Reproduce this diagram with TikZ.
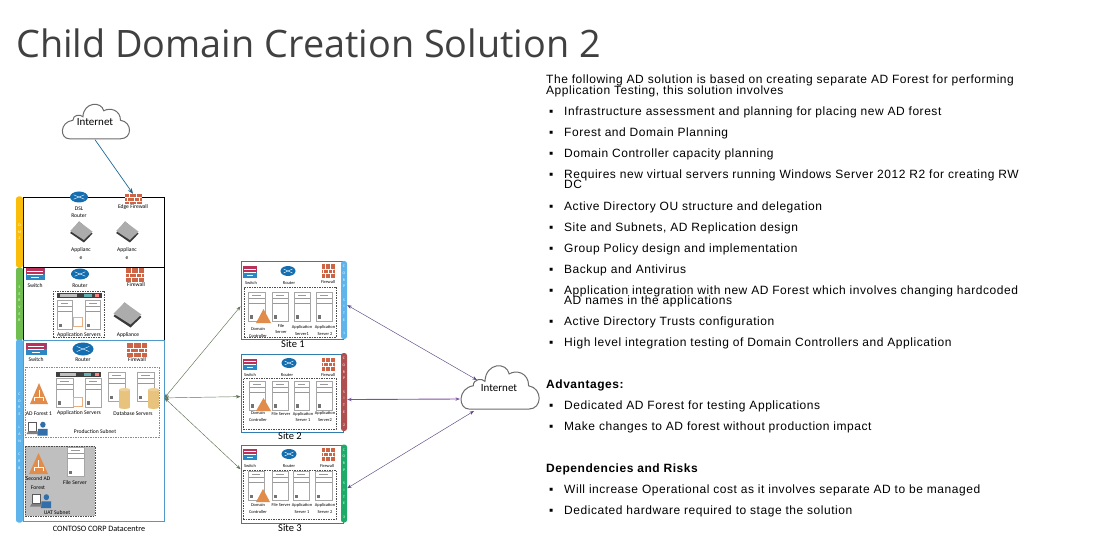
\documentclass[tikz,border=0pt]{standalone}
\usepackage{fontspec}
\setmainfont[LetterSpace=4.5]{Liberation Sans}
\newfontfamily\titlefont{Open Sans}
\newfontfamily\labfont{Carlito}
\usepackage{xcolor}
\usetikzlibrary{arrows.meta,calc,shapes.geometric}
\definecolor{dmzcol}{RGB}{250,190,10}
\definecolor{srvcol}{RGB}{112,190,80}
\definecolor{corpcol}{RGB}{95,180,235}
\definecolor{framecol}{RGB}{50,125,175}
\definecolor{redbar}{RGB}{175,80,80}
\definecolor{greenbar}{RGB}{30,170,105}
\definecolor{brickcol}{RGB}{205,100,70}
\definecolor{routercol}{RGB}{20,110,175}
\definecolor{swred}{RGB}{185,50,90}
\definecolor{swblue}{RGB}{45,135,195}
\definecolor{adcol}{RGB}{225,140,75}
\definecolor{dbcol}{RGB}{232,195,125}
\definecolor{usercol}{RGB}{50,110,170}
\definecolor{olivelink}{RGB}{95,115,85}
\definecolor{purplelink}{RGB}{90,70,130}
\definecolor{violetlink}{RGB}{125,80,165}
\definecolor{uplink}{RGB}{30,105,150}
\tikzset{
  unit/.style ={y={($(path picture bounding box.north west)-(path picture bounding box.south west)$)},
                x={($(path picture bounding box.south east)-(path picture bounding box.south west)$)}},
  firewall/.style ={inner sep=0pt, minimum width=13pt, minimum height=12pt, fill=brickcol,
                path picture={\draw[unit, white, line width=0.35pt] (-.5,-.17) -- (.5,-.17) (-.5,.16) -- (.5,.16)
                  (-.2,.5) -- (-.2,.16) (.2,.5) -- (.2,.16) (-.35,.16) -- (-.35,-.17) (.05,.16) -- (.05,-.17) (.35,.16) -- (.35,-.17) (-.2,-.17) -- (-.2,-.5) (.2,-.17) -- (.2,-.5);}},
  router/.style ={ellipse, inner sep=0pt, minimum width=15pt, minimum height=10pt, fill=routercol,
                path picture={\draw[unit, white, line width=0.4pt] (-.3,-.2) -- (.3,.2) (-.3,.2) -- (.3,-.2);}},
  switchbox/.style ={inner sep=0pt, minimum width=14pt, minimum height=11pt, fill=swblue,
                path picture={\fill[unit, swred] (-.5,0) rectangle (.5,.5); \draw[unit, white, line width=0.3pt] (-.4,.25) -- (.4,.25) (-.4,0) -- (.4,0) (-.2,-.25) -- (.2,-.25);}},
  serverbox/.style ={draw=gray!70, fill=white, inner sep=0pt, line width=0.4pt, minimum width=17pt, minimum height=29pt,
                path picture={\draw[unit, gray!80, line width=0.4pt] (-.5,.3) -- (.5,.3) (-.5,.12) -- (.5,.12) (-.25,.4) -- (.25,.4);
                  \fill[unit, gray!90!black] (-.38,-.43) rectangle (-.2,-.3);}},
  appliance/.style ={inner sep=0pt, minimum width=24pt, minimum height=21pt,
                path picture={\fill[unit, gray!45!black] (-.45,-.05) -- (-.08,.5) -- (.48,-.08) -- (.12,-.5) -- cycle;
                  \fill[unit, gray!65] (-.45,.05) -- (-.08,.5) -- (.48,.02) -- (.12,-.38) -- cycle;}},
  adtree/.style ={inner sep=0pt, minimum width=18pt, minimum height=21pt,
                path picture={\fill[unit, adcol] (0,.5) -- (.5,-.5) -- (-.5,-.5) -- cycle;
                  \draw[unit, white, line width=0.5pt] (0,.15) -- (0,-.2) (-.25,-.38) -- (-.25,-.2) -- (.25,-.2) -- (.25,-.38);}},
  adplain/.style ={inner sep=0pt, minimum width=15pt, minimum height=14pt,
                path picture={\fill[unit, adcol] (0,.5) -- (.5,-.5) -- (-.5,-.5) -- cycle;}},
  dbcyl/.style ={inner sep=0pt, minimum width=11pt, minimum height=21pt,
                path picture={\fill[unit, dbcol] (-.5,-.42) rectangle (.5,.42); \fill[unit, dbcol] (0,-.42) ellipse (.5 and .08);
                  \fill[unit, dbcol!80!white] (0,.42) ellipse (.5 and .08);}},
  userpc/.style ={inner sep=0pt, minimum width=21pt, minimum height=15pt,
                path picture={\fill[unit, usercol] (.28,.22) ellipse (.13 and .2); \fill[unit, usercol] (.02,-.5) -- (.05,-.05) -- (.5,-.05) -- (.5,-.5) -- cycle;
                  \draw[unit, gray!70!black, fill=white, line width=0.4pt] (-.4,-.2) rectangle (-.02,.4); \fill[unit, gray] (-.5,-.4) -- (-.42,-.22) -- (.05,-.22) -- (.05,-.4) -- cycle;}},
  certbox/.style ={draw=adcol!70, fill=white, inner sep=0pt, line width=0.3pt, minimum width=9pt, minimum height=9pt},
  rackbar/.style ={fill=black!75, inner sep=0pt, minimum width=45pt, minimum height=5pt,
                path picture={\fill[unit, gray!50] (-.42,-.25) rectangle (-.05,.25); \fill[unit, teal!60] (.12,-.25) rectangle (.28,.25); \fill[unit, red!50] (.36,-.25) rectangle (.45,.25);}},
  cloudpic/.pic={\draw[gray!85!black, line width=1pt, fill=white] (-.38,-.48) .. controls (-.53,-.48) and (-.53,0) .. (-.33,.05)
                  .. controls (-.33,.22) and (-.21,.22) .. (-.18,.15) .. controls (-.17,.58) and (.1,.6) .. (.13,.32)
                  .. controls (.22,.42) and (.38,.35) .. (.38,.05) .. controls (.56,0) and (.56,-.48) .. (.38,-.48) -- cycle;},
  cloudbox/.style ={inner sep=0pt, font=\labfont\fontsize{11}{12}\selectfont},
  lab/.style ={inner sep=0pt, font=\labfont\fontsize{5.6}{6.6}\selectfont, align=center},
  slab/.style ={inner sep=0pt, font=\labfont\fontsize{4.4}{6.2}\selectfont, align=center},
  sitelab/.style ={inner sep=0pt, font=\labfont\fontsize{10.5}{12}\selectfont},
  sidebar/.style ={rounded corners=2.5pt, inner sep=0pt, minimum width=7pt, text=white, align=center, font=\labfont\fontsize{3.8}{6.7}\selectfont},
  frame/.style ={draw=framecol, line width=0.9pt, inner sep=0pt, fill=white},
  subnet/.style ={draw=black!70, dashed, dash pattern=on 1.5pt off 1pt, line width=0.4pt, inner sep=0pt},
  link/.style ={{Stealth[length=1.6mm,width=1.2mm]}-{Stealth[length=1.6mm,width=1.2mm]}, line width=0.45pt},
  body/.style ={anchor=base west, inner sep=0pt, font=\fontsize{12}{13}\selectfont}
}
\newcommand{\bitem}{\makebox[15pt][l]{▪}}
\begin{document}
\begin{tikzpicture}[x=1pt,y=-1pt]
  \useasboundingbox (0,0) rectangle (1114,540);
  \node[inner sep=0pt, anchor=base west, font=\titlefont\fontsize{37.8}{40}\selectfont, text=black!75] (title) at (16,58) {Child Domain Creation Solution 2};
  % datacentre
  \pic[xscale=67, yscale=-35] at (95,122) {cloudpic};
  \node[cloudbox, minimum width=67pt, minimum height=35pt] (inet1) at (95,122) {Internet};
  \node[frame, draw=black, minimum width=141pt, minimum height=70pt] (dmzbox) at (93.5,232) {};
  \node[frame, draw=black, minimum width=141pt, minimum height=73pt] (srvbox) at (93.5,304) {};
  \node[frame, draw=corpcol!85!black, minimum width=141pt, minimum height=181pt] (corpbox) at (93.5,431) {};
  \node[sidebar, fill=dmzcol, minimum height=71pt] (dmzbar) at (19.5,232) {D\\M\\Z};
  \node[sidebar, fill=srvcol, minimum height=73pt] (srvbar) at (19.5,304) {S\\E\\R\\V\\E\\R};
  \node[sidebar, fill=corpcol, minimum height=183pt] (corpbar) at (19.5,431) {C\\O\\R\\E\\[6.7pt]L\\A\\N\\[6.7pt]C\\R\\B};
  \node[router, minimum width=18pt, minimum height=11pt] (dmzrt) at (79,197) {};
  \node[firewall, minimum width=17pt, minimum height=10pt] (dmzfw) at (133,199) {};
  \node[lab] (dmzrtl) at (79,212.5) {DSL\\Router};
  \node[lab] (dmzfwl) at (133,207.5) {Edge Firewall};
  \node[appliance] (dmzap1) at (81,232) {};
  \node[appliance] (dmzap2) at (127,232) {};
  \node[lab] (dmzap1l) at (81,254) {Applianc\\[1.5pt]e};
  \node[lab] (dmzap2l) at (127,254) {Applianc\\[1.5pt]e};
  \node[switchbox, minimum width=19pt, minimum height=11pt] (srvsw) at (35,274) {};
  \node[router, minimum width=18pt, minimum height=11pt] (srvrt) at (80,274) {};
  \node[firewall, minimum width=18pt, minimum height=13pt] (srvfw) at (135,275) {};
  \node[lab] (srvswl) at (35,286) {Switch};
  \node[lab] (srvrtl) at (80,286) {Router};
  \node[lab] (srvfwl) at (136,285) {Firewall};
  \node[subnet, minimum width=51pt, minimum height=46pt] (srvsub) at (78.5,314) {};
  \node[rackbar] (srvrack) at (79,295.5) {};
  \node[serverbox, minimum width=15pt] (srvs1) at (64.5,315) {};
  \node[serverbox, minimum width=15pt] (srvs2) at (93,315) {};
  \node[certbox] (srvcert) at (78,322) {};
  \node[lab] (srvsubl) at (79,335) {Application Servers};
  \node[appliance, minimum width=30pt, minimum height=25pt] (srvap) at (127,315) {};
  \node[lab] (srvapl) at (128,335) {Appliance};
  \node[switchbox, minimum width=21pt, minimum height=12pt] (corpsw) at (36,349) {};
  \node[router, minimum width=21pt, minimum height=13pt] (corprt) at (83,349) {};
  \node[firewall, minimum width=20pt, minimum height=14pt] (corpfw) at (137,350) {};
  \node[lab] (corpswl) at (36,360) {Switch};
  \node[lab] (corprtl) at (83,360) {Router};
  \node[lab] (corpfwl) at (137,360) {Firewall};
  \node[subnet, draw=black!45, minimum width=134pt, minimum height=70pt] (prodsub) at (92,402) {};
  \node[adtree] (prodad) at (39,393.5) {};
  \node[lab] (prodadl) at (39,413.5) {AD Forest 1};
  \node[rackbar] (prodrack) at (78.5,374.5) {};
  \node[serverbox] (prods1) at (64.5,392.5) {};
  \node[serverbox, minimum width=16pt] (prods2) at (93,392.5) {};
  \node[certbox] (prodcert) at (78,402) {};
  \node[lab] (prodsl) at (79,413.5) {Application Servers};
  \node[serverbox] (dbs1) at (116.5,387) {};
  \node[dbcyl] (db1) at (124.5,398.5) {};
  \node[serverbox] (dbs2) at (145.5,387) {};
  \node[dbcyl] (db2) at (153.5,398.5) {};
  \node[lab] (dbl) at (133,414) {Database Servers};
  \node[userpc] (produser) at (37,428) {};
  \node[lab] (prodl) at (95,432) {Production Subnet};
  \node[subnet, fill=gray!50, minimum width=70pt, minimum height=70pt] (uatsub) at (60,481) {};
  \node[adtree, minimum width=19pt] (uatad) at (38.5,463.5) {};
  \node[lab] (uatadl) at (38,483) {Second AD\\[2pt]Forest};
  \node[serverbox] (uats) at (75.5,462) {};
  \node[lab] (uatsl) at (75,483) {File Server};
  \node[userpc] (uatuser) at (40.5,500.5) {};
  \node[lab] (uatl) at (57,513) {UAT Subnet};
  \node[sitelab, font=\labfont\fontsize{8.2}{10}\selectfont] (dcl) at (99,529) {CONTOSO CORP Datacentre};
  % site 1
  \node[frame, minimum width=102pt, minimum height=78pt] (site1) at (292,300) {};
  \node[sidebar, fill=corpcol, minimum width=6pt, minimum height=78pt] (site1bar) at (344,300) {C\\O\\R\\P\\[6.7pt]S\\I\\T\\E\\[6.7pt]1};
  \node[switchbox] (s1sw) at (250,272) {};
  \node[router] (s1rt) at (288,271) {};
  \node[firewall, minimum height=13pt] (s1fw) at (328,271) {};
  \node[slab] (s1swl) at (251,283) {Switch};
  \node[slab] (s1rtl) at (289,283) {Router};
  \node[slab] (s1fwl) at (328,282) {Firewall};
  \node[subnet, minimum width=92pt, minimum height=50pt] (s1sub) at (290,312) {};
  \node[serverbox] (s1a) at (256.5,306.5) {};
  \node[serverbox, minimum width=16pt] (s1b) at (280,306.5) {};
  \node[serverbox, minimum width=16pt] (s1c) at (302,306.5) {};
  \node[serverbox, minimum width=16pt] (s1d) at (324,306.5) {};
  \node[adplain] (s1ad) at (263.5,316) {};
  \node[slab] (s1al) at (258,332.5) {Domain\\Controller};
  \node[slab] (s1bl) at (281,329) {File\\Server};
  \node[slab] (s1cl) at (302,330.5) {Application\\Server1};
  \node[slab] (s1dl) at (325,330.5) {Application\\Server 2};
  \node[sitelab] (s1l) at (293,344) {Site 1};
  % site 2
  \node[frame, minimum width=102pt, minimum height=78pt] (site2) at (292,393) {};
  \node[sidebar, fill=redbar, minimum width=6pt, minimum height=78pt] (site2bar) at (344,392) {C\\O\\R\\P\\[6.7pt]S\\I\\T\\E\\[6.7pt]2};
  \node[switchbox] (s2sw) at (250,364) {};
  \node[router] (s2rt) at (289,363) {};
  \node[firewall, minimum height=13pt] (s2fw) at (328,364) {};
  \node[slab] (s2swl) at (250,375) {Switch};
  \node[slab] (s2rtl) at (287,375) {Router};
  \node[slab] (s2fwl) at (328,375) {Firewall};
  \node[subnet, minimum width=93pt, minimum height=51pt] (s2sub) at (289.5,403.5) {};
  \node[serverbox, minimum width=16pt] (s2a) at (257,395.5) {};
  \node[serverbox, minimum width=16pt] (s2b) at (280,395.5) {};
  \node[serverbox, minimum width=15pt] (s2c) at (301.5,395.5) {};
  \node[serverbox, minimum width=16pt] (s2d) at (324,395.5) {};
  \node[adplain, minimum height=13pt] (s2ad) at (263.5,404.5) {};
  \node[slab] (s2al) at (258,416.5) {Domain\\Controller};
  \node[slab] (s2bl) at (281,413.5) {File Server};
  \node[slab] (s2cl) at (303,417) {Application\\Server 1};
  \node[slab] (s2dl) at (325,416.5) {Application\\Server2};
  \node[sitelab] (s2l) at (290,436) {Site 2};
  % site 3
  \node[frame, minimum width=102pt, minimum height=78pt] (site3) at (292,484) {};
  \node[sidebar, fill=greenbar, minimum width=6pt, minimum height=78pt] (site3bar) at (344,483.5) {C\\O\\R\\P\\[6.7pt]S\\I\\T\\E\\[6.7pt]3};
  \node[switchbox] (s3sw) at (250,454) {};
  \node[router] (s3rt) at (289,454) {};
  \node[firewall, minimum height=13pt] (s3fw) at (328,454) {};
  \node[slab] (s3swl) at (250,466) {Switch};
  \node[slab] (s3rtl) at (289,466) {Router};
  \node[slab] (s3fwl) at (327,466) {Firewall};
  \node[subnet, minimum width=93pt, minimum height=49pt] (s3sub) at (289.5,494.5) {};
  \node[serverbox, minimum width=16pt] (s3a) at (256,486) {};
  \node[serverbox, minimum width=16pt] (s3b) at (280,486) {};
  \node[serverbox, minimum width=16pt] (s3c) at (301,486) {};
  \node[serverbox, minimum width=17pt] (s3d) at (323.5,486) {};
  \node[adplain, minimum width=14pt, minimum height=13pt] (s3ad) at (263,495.5) {};
  \node[slab] (s3al) at (258,508.5) {Domain\\Controller};
  \node[slab] (s3bl) at (281,505) {File Server};
  \node[slab] (s3cl) at (302,508.5) {Application\\Server 1};
  \node[slab] (s3dl) at (325,508.5) {Application\\Server 2};
  \node[sitelab] (s3l) at (290,528) {Site 3};
  % internet and links
  \pic[xscale=78, yscale=-44] at (499,388) {cloudpic};
  \node[cloudbox, minimum width=78pt, minimum height=44pt] (inet2) at (499,388) {Internet};
  \coordinate (inet2nw) at ($(inet2)+(-22,-8)$);
  \coordinate (inet2w) at ($(inet2)+(-39,11)$);
  \coordinate (inet2sw) at ($(inet2)+(-25,23)$);
  \draw[-{Stealth[length=2mm,width=1.6mm]}, uplink, line width=0.7pt] (inet1.south) -- (dmzfw.north);
  \draw[link, olivelink] (corpbox.25.7) -- (site1.187);
  \draw[link, olivelink] (corpbox.25.7) -- (site2.184.5);
  \draw[link, olivelink] (corpbox.25.7) -- (site3.164.6);
  \draw[link, purplelink] (site1bar.-58) -- (inet2nw);
  \draw[link, violetlink, line width=0.9pt] (site2bar.-67) -- (inet2w);
  \draw[link, purplelink] (site3bar.-56) -- (inet2sw);
  % text
  \node[body] (intro1) at (546,83.5) {The following AD solution is based on creating separate AD Forest for performing};
  \node[body] (intro2) at (546,94.5) {Application Testing, this solution involves};
  \node[body] (item1) at (549,115.5) {\bitem Infrastructure assessment and planning for placing new AD forest};
  \node[body] (item2) at (549,136.5) {\bitem Forest and Domain Planning};
  \node[body] (item3) at (549,157.5) {\bitem Domain Controller capacity planning};
  \node[body] (item4) at (549,178.5) {\bitem Requires new virtual servers running Windows Server 2012 R2 for creating RW};
  \node[body] (item4b) at (564,189) {DC};
  \node[body] (item5) at (549,210.5) {\bitem Active Directory OU structure and delegation};
  \node[body] (item6) at (549,231.5) {\bitem Site and Subnets, AD Replication design};
  \node[body] (item7) at (549,252.5) {\bitem Group Policy design and implementation};
  \node[body] (item8) at (549,273.5) {\bitem Backup and Antivirus};
  \node[body] (item9) at (549,294.5) {\bitem Application integration with new AD Forest which involves changing hardcoded};
  \node[body] (item9b) at (564,304.5) {AD names in the applications};
  \node[body] (item10) at (549,325.5) {\bitem Active Directory Trusts configuration};
  \node[body] (item11) at (549,346.5) {\bitem High level integration testing of Domain Controllers and Application};
  \node[body, font=\fontsize{12}{13}\selectfont\bfseries] (advh) at (546,388.5) {Advantages:};
  \node[body] (adv1) at (549,409.5) {\bitem Dedicated AD Forest for testing Applications};
  \node[body] (adv2) at (549,430.5) {\bitem Make changes to AD forest without production impact};
  \node[body, font=\fontsize{12}{13}\selectfont\bfseries] (deph) at (546,472.5) {Dependencies and Risks};
  \node[body] (dep1) at (549,493.5) {\bitem Will increase Operational cost as it involves separate AD to be managed};
  \node[body] (dep2) at (549,514.5) {\bitem Dedicated hardware required to stage the solution};
\end{tikzpicture}
\end{document}
